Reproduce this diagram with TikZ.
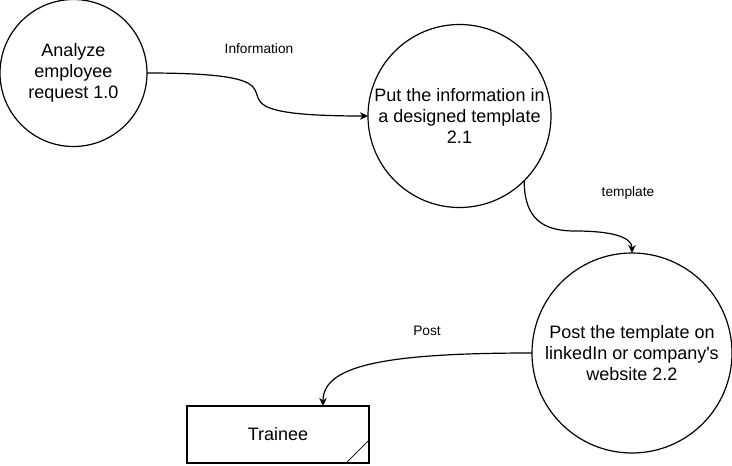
\documentclass[tikz,border=0pt]{standalone}
\usepackage{fontspec}
\setmainfont{Liberation Sans}
\usetikzlibrary{arrows.meta}
\begin{document}
\begin{tikzpicture}[x=1pt,y=-1pt,
  proc/.style={circle,draw=black,line width=1.2pt,inner sep=0pt,outer sep=0pt,
    align=center,font=\fontsize{18}{21}\selectfont},
  ent/.style={rectangle,draw=black,line width=1.2pt,inner sep=0pt,outer sep=0pt,
    minimum width=182pt,minimum height=57pt,font=\fontsize{18}{21}\selectfont},
  flow/.style={draw=black,line width=1.2pt,-{Stealth[length=8pt,width=7.5pt,inset=2.5pt]}},
  lbl/.style={font=\fontsize{13.7}{16}\selectfont,inner sep=0pt}]
\useasboundingbox (0,0) rectangle (732,466);

% processes
\node[proc,minimum size=147pt] (c1) at (73.5,73) {Analyze\\employee\\request 1.0};
\node[proc,minimum size=183pt] (c2) at (459.5,116) {Put the information in\\a designed template\\2.1};
\node[proc,minimum size=200pt] (c3) at (632,353) {Post the template on\\linkedIn or company\textquotesingle s\\website 2.2};

% entity
\node[ent] (t) at (278,434.5) {Trainee};
\draw[line width=0.7pt] ([xshift=-23pt]t.south east) -- ([yshift=23pt]t.south east);

% flows
\draw[flow] (c1.east) .. controls +(205,0) and +(-205,0) .. (c2.west);
\draw[flow] (c2.-45) .. controls +(0,40) and +(-30,0) .. (575,231)
  .. controls +(40,0) and +(0,-15) .. (c3.north);
\draw[flow] (c3.west) .. controls +(-150,0) and +(0,-40) .. ([xshift=45pt]t.north);

% labels
\node[lbl] (l1) at (259,49) {Information};
\node[lbl] (l2) at (628,193) {template};
\node[lbl] (l3) at (427,331) {Post};
\end{tikzpicture}
\end{document}
